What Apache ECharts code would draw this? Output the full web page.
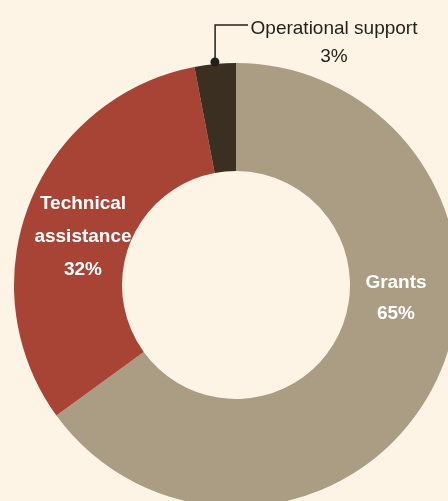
<!DOCTYPE html>
<html><head><meta charset="utf-8">
<script src="https://cdn.jsdelivr.net/npm/echarts@6/dist/echarts.min.js"></script>
<style>html,body{margin:0;padding:0;background:#FDF4E5;}#c{width:448px;height:501px;}</style>
</head><body><div id="c"></div>
<script>
const categories = ["Grants", "Technical\nassistance", "Operational support"];
const values = [65, 32, 3];
const colors = ["#AB9D84", "#A84435", "#3A2F20"];
const FONT = "'Liberation Sans', Arial, sans-serif";

const chart = echarts.init(document.getElementById('c'), null, {renderer: 'canvas'});
const CX = 236, CY = 285, R0 = 114, R1 = 222;

const labelPos = [
  {x: 396, y: 298},
  {x: 83, y: 237},
  {x: 334, y: 43}
];

chart.setOption({
  backgroundColor: '#FDF4E5',
  animation: false,
  series: [{
    type: 'pie',
    center: [CX, CY],
    radius: [R0, R1],
    startAngle: 90,
    clockwise: true,
    data: categories.map((c, i) => ({
      name: c, value: values[i],
      itemStyle: {color: colors[i]},
      label: i < 2 ? {
        position: 'inside', color: '#fff', fontWeight: 'bold', fontSize: 19, lineHeight: i === 0 ? 31 : 33,
        fontFamily: FONT
      } : {
        position: 'outside', color: '#231f1a', fontWeight: 'normal', fontSize: 19, lineHeight: 28,
        fontFamily: FONT
      },
      labelLine: {show: i === 2, lineStyle: {color: '#231f1a', width: 1.5}}
    })),
    label: {show: true, formatter: p => p.name + '\n' + p.value + '%', align: 'center', overflow: 'none', width: 300},
    labelLayout: function (params) {
      const i = params.dataIndex;
      const pos = labelPos[i];
      const res = {x: pos.x, y: pos.y, align: 'center', verticalAlign: 'middle'};
      if (i === 2 && params.labelLinePoints) {
        const p0 = params.labelLinePoints[0];
        const ly = pos.y - 18;
        res.labelLinePoints = [[p0[0], p0[1] - 2], [p0[0], ly], [pos.x - 86, ly]];
      }
      return res;
    }
  }]
});

// dot at the start of the leader line, from the library's own sector layout
const lay = chart.getModel().getSeriesByIndex(0).getData().getItemLayout(2);
const mid = (lay.startAngle + lay.endAngle) / 2;
const dx = lay.cx + Math.cos(mid) * (lay.r + 2), dy = lay.cy + Math.sin(mid) * (lay.r + 2);
chart.setOption({graphic: [{type: 'circle', shape: {cx: dx, cy: dy, r: 4.5}, style: {fill: '#231f1a'}, z: 100}]});
</script>
</body></html>
